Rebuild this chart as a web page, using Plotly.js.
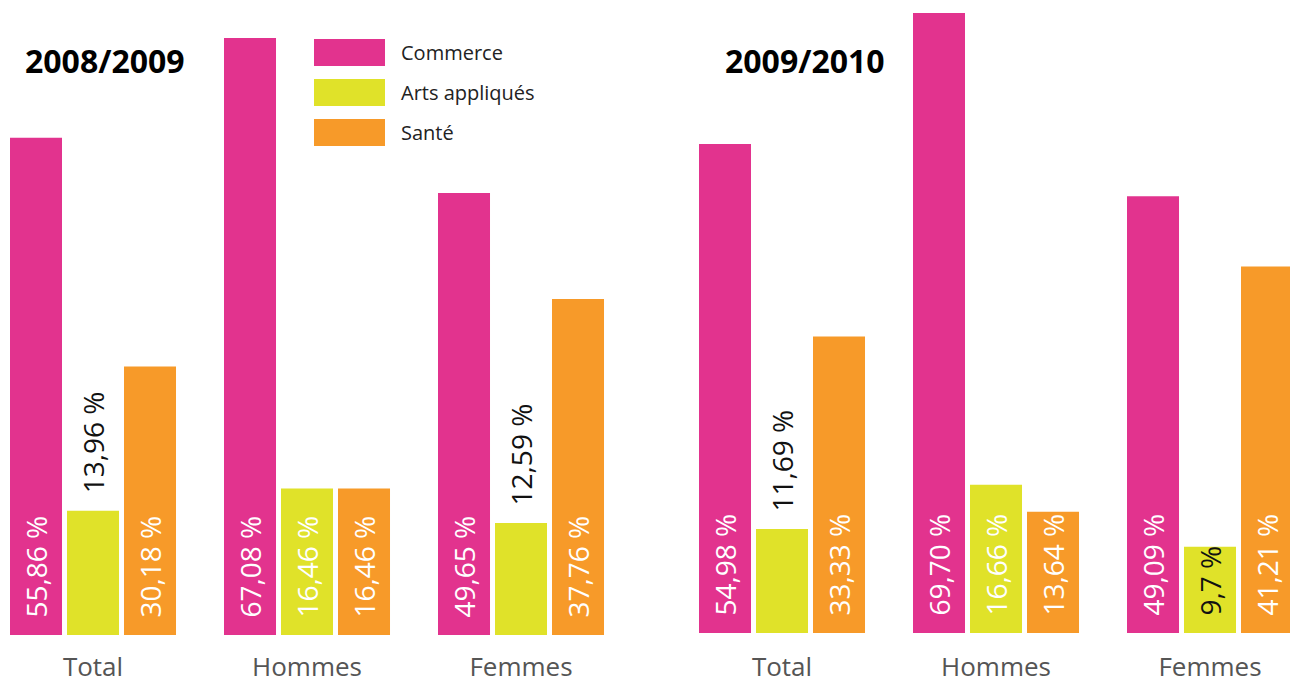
<!DOCTYPE html>
<html>
<head>
<meta charset="utf-8">
<script src="https://cdn.plot.ly/plotly-3.0.1.min.js"></script>
<style>html,body{margin:0;padding:0;background:#fff;}#chart{width:1290px;height:684px;}</style>
</head>
<body>
<div id="chart"></div>
<script>
const categories = ['Total', 'Hommes', 'Femmes'];
const seriesNames = ['Commerce', 'Arts appliqués', 'Santé'];
const panelTitles = ['2008/2009', '2009/2010'];

const commerce0809 = [55.86, 67.08, 49.65];
const arts0809 = [13.96, 16.46, 12.59];
const sante0809 = [30.18, 16.46, 37.76];
const commerce0910 = [54.98, 69.70, 49.09];
const arts0910 = [11.69, 16.66, 9.7];
const sante0910 = [33.33, 13.64, 41.21];

const commerce0809Text = ['55,86 %', '67,08 %', '49,65 %'];
const arts0809Text = ['13,96 %', '16,46 %', '12,59 %'];
const sante0809Text = ['30,18 %', '16,46 %', '37,76 %'];
const commerce0910Text = ['54,98 %', '69,70 %', '49,09 %'];
const arts0910Text = ['11,69 %', '16,66 %', '9,7 %'];
const sante0910Text = ['33,33 %', '13,64 %', '41,21 %'];

const colors = ['#E2338E', '#E0E229', '#F79A29'];
const FONT = '"Open Sans", "Noto Sans", sans-serif';

const panels = [
  {values: [commerce0809, arts0809, sante0809], texts: [commerce0809Text, arts0809Text, sante0809Text],
   artsPos: ['outside', 'inside', 'outside'], artsColor: ['#111', '#fff', '#111'], xa: 'x', ya: 'y'},
  {values: [commerce0910, arts0910, sante0910], texts: [commerce0910Text, arts0910Text, sante0910Text],
   artsPos: ['outside', 'inside', 'inside'], artsColor: ['#111', '#fff', '#111'], xa: 'x2', ya: 'y2'}
];

const traces = [];
panels.forEach(p => {
  for (let s = 0; s < 3; s++) {
    const isArts = s === 1;
    traces.push({
      type: 'bar',
      name: seriesNames[s],
      x: categories,
      y: p.values[s],
      text: p.texts[s],
      texttemplate: '\u00a0\u00a0%{text}',
      textposition: isArts ? p.artsPos : 'inside',
      insidetextanchor: 'start',
      textangle: -90,
      constraintext: 'none',
      cliponaxis: false,
      textfont: {family: FONT, size: 28, color: isArts ? p.artsColor : '#fff'},
      marker: {color: colors[s], line: {width: 0}},
      xaxis: p.xa, yaxis: p.ya,
      showlegend: false,
      hoverinfo: 'skip'
    });
  }
});

const W = 1290, H = 684;
const xaxisBase = {
  type: 'category', showgrid: false, zeroline: false, showline: false,
  ticks: 'outside', tickcolor: 'rgba(0,0,0,0)',
  tickfont: {family: FONT, size: 26, color: '#555'}, fixedrange: true
};

const shapes = [];
const annotations = [];
seriesNames.forEach((n, i) => {
  const top = 39 + i * 40, bot = 66 + i * 40;
  shapes.push({type: 'rect', xref: 'paper', yref: 'paper',
    x0: 314 / W, x1: 385 / W, y0: 1 - bot / H, y1: 1 - top / H,
    fillcolor: colors[i], line: {width: 0}});
  annotations.push({xref: 'paper', yref: 'paper', x: 399 / W, y: 1 - (top + bot) / 2 / H,
    xanchor: 'left', yanchor: 'middle', text: n, showarrow: false,
    font: {family: FONT, size: 20, color: '#222'}});
});
[23, 723].forEach((px, i) => {
  annotations.push({xref: 'paper', yref: 'paper', x: px / W, y: 1 - 61 / H,
    xanchor: 'left', yanchor: 'middle', text: '<b>' + panelTitles[i] + '</b>', showarrow: false,
    font: {family: FONT, size: 32, color: '#000'}});
});

const layout = {
  width: W, height: H,
  margin: {l: 0, r: 0, t: 0, b: 0},
  paper_bgcolor: '#fff', plot_bgcolor: '#fff',
  barmode: 'group', bargap: 0.2009, bargroupgap: 0.0877,
  showlegend: false,
  xaxis: Object.assign({}, xaxisBase, {domain: [0, 0.5], range: [-0.4346, 2.5794], anchor: 'y', ticklen: 9}),
  xaxis2: Object.assign({}, xaxisBase, {domain: [0.5, 1], range: [-0.6402, 2.3738], anchor: 'y2', ticklen: 11}),
  yaxis: {domain: [(H - 635) / H, 1], range: [0, 635 / 8.9], visible: false, fixedrange: true},
  yaxis2: {domain: [(H - 633) / H, 1], range: [0, 633 / 8.895], visible: false, fixedrange: true},
  shapes: shapes,
  annotations: annotations,
  font: {family: FONT}
};

Plotly.newPlot('chart', traces, layout, {displayModeBar: false, staticPlot: true});
</script>
</body>
</html>
